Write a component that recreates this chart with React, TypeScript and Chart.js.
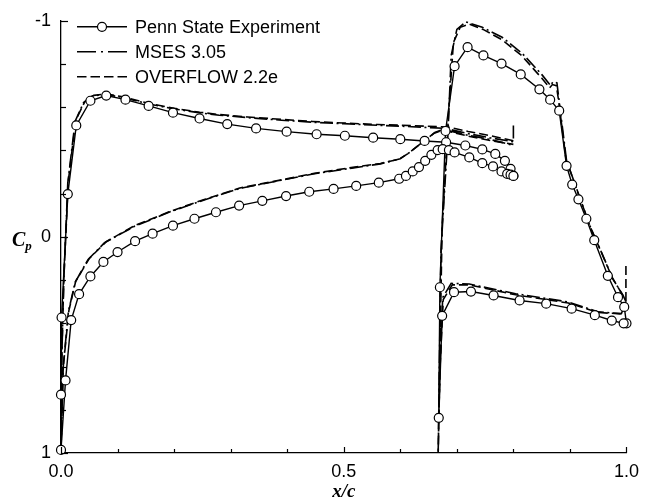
import React, { useEffect, useRef } from 'react';
import { Chart, registerables } from 'chart.js';

Chart.register(...registerables);

// ---- Penn State Experiment: main element (TE -> upper -> LE -> lower -> TE)
const expMainX = [0.800, 0.795, 0.785, 0.768, 0.745, 0.715, 0.681, 0.643, 0.600, 0.552, 0.502, 0.452, 0.399, 0.345, 0.294, 0.245, 0.198, 0.155, 0.114, 0.080, 0.052, 0.027, 0.012, 0.001, 0.000, 0.000,
  0.008, 0.018, 0.032, 0.052, 0.075, 0.100, 0.131, 0.162, 0.198, 0.236, 0.274, 0.315, 0.356, 0.398, 0.439, 0.482, 0.522, 0.562, 0.598, 0.610, 0.622, 0.633, 0.644, 0.655, 0.666, 0.675, 0.686, 0.696, 0.722, 0.745, 0.764, 0.779, 0.789, 0.795, 0.800];
const expMainY = [-0.282, -0.315, -0.352, -0.384, -0.405, -0.423, -0.438, -0.444, -0.452, -0.459, -0.468, -0.475, -0.487, -0.502, -0.522, -0.548, -0.575, -0.606, -0.635, -0.654, -0.630, -0.516, -0.198, 0.373, 0.730, 0.986,
  0.664, 0.385, 0.265, 0.183, 0.116, 0.070, 0.020, -0.015, -0.052, -0.084, -0.114, -0.145, -0.167, -0.189, -0.209, -0.222, -0.236, -0.251, -0.269, -0.282, -0.303, -0.323, -0.352, -0.380, -0.402, -0.406, -0.402, -0.391, -0.368, -0.341, -0.326, -0.303, -0.292, -0.288, -0.282];

// ---- Penn State Experiment: flap
const expFlapX = [1.000, 0.996, 0.985, 0.967, 0.943, 0.929, 0.915, 0.904, 0.894, 0.881, 0.865, 0.846, 0.813, 0.779, 0.747, 0.719, 0.696, 0.680, 0.670, 0.668,
  0.674, 0.695, 0.725, 0.765, 0.811, 0.858, 0.903, 0.944, 0.974, 0.995];
const expFlapY = [0.400, 0.324, 0.279, 0.180, 0.015, -0.084, -0.174, -0.242, -0.329, -0.584, -0.635, -0.683, -0.752, -0.802, -0.840, -0.878, -0.790, -0.490, 0.233, 0.837,
  0.365, 0.256, 0.253, 0.271, 0.294, 0.309, 0.332, 0.362, 0.387, 0.400];

// ---- MSES 3.05: main element
const msesMainX = [0.800, 0.800, 0.760, 0.720, 0.680, 0.620, 0.565, 0.500, 0.448, 0.390, 0.330, 0.280, 0.246, 0.200, 0.155, 0.110, 0.077, 0.055, 0.040, 0.025, 0.012, 0.005, 0.001, 0.000,
  0.004, 0.013, 0.025, 0.048, 0.077, 0.130, 0.194, 0.252, 0.316, 0.389, 0.448, 0.506, 0.565, 0.600, 0.617, 0.640, 0.661, 0.675, 0.720, 0.760, 0.798];
const msesMainY = [-0.515, -0.440, -0.458, -0.478, -0.502, -0.510, -0.516, -0.524, -0.530, -0.540, -0.552, -0.563, -0.574, -0.592, -0.615, -0.645, -0.660, -0.652, -0.622, -0.535, -0.250, 0.200, 0.600, 0.980,
  0.600, 0.347, 0.210, 0.104, 0.027, -0.049, -0.117, -0.170, -0.224, -0.262, -0.292, -0.315, -0.338, -0.362, -0.392, -0.440, -0.483, -0.497, -0.470, -0.450, -0.425];

// ---- MSES 3.05: flap
const msesFlapX = [0.999, 0.994, 0.976, 0.956, 0.938, 0.915, 0.894, 0.881, 0.877, 0.870, 0.866, 0.850, 0.816, 0.780, 0.745, 0.716, 0.700, 0.690, 0.684, 0.672, 0.667,
  0.670, 0.675, 0.690, 0.722, 0.804, 0.897, 0.950, 0.991, 0.999];
const msesFlapY = [0.300, 0.271, 0.195, 0.073, -0.033, -0.200, -0.353, -0.627, -0.713, -0.718, -0.700, -0.752, -0.848, -0.924, -0.970, -0.995, -0.960, -0.840, -0.460, 0.058, 1.000,
  0.600, 0.280, 0.215, 0.218, 0.263, 0.301, 0.347, 0.355, 0.300];

// ---- OVERFLOW 2.2e: main element
const ovfMainX = [0.800, 0.760, 0.720, 0.685, 0.620, 0.560, 0.500, 0.445, 0.390, 0.330, 0.280, 0.245, 0.200, 0.155, 0.110, 0.080, 0.058, 0.042, 0.026, 0.013, 0.005, 0.001, 0.000,
  0.004, 0.014, 0.026, 0.050, 0.080, 0.130, 0.195, 0.252, 0.316, 0.390, 0.448, 0.506, 0.565, 0.598, 0.615, 0.638, 0.660, 0.676, 0.720, 0.760, 0.800];
const ovfMainY = [-0.445, -0.468, -0.488, -0.508, -0.515, -0.520, -0.527, -0.534, -0.544, -0.555, -0.566, -0.577, -0.595, -0.618, -0.648, -0.662, -0.655, -0.625, -0.540, -0.260, 0.190, 0.600, 0.985,
  0.600, 0.340, 0.205, 0.100, 0.022, -0.052, -0.120, -0.172, -0.226, -0.264, -0.294, -0.318, -0.340, -0.360, -0.388, -0.436, -0.480, -0.495, -0.466, -0.446, -0.428];

// ---- OVERFLOW 2.2e: flap
const ovfFlapX = [0.999, 0.999, 0.993, 0.975, 0.955, 0.937, 0.914, 0.893, 0.880, 0.876, 0.869, 0.864, 0.850, 0.815, 0.780, 0.748, 0.722, 0.706, 0.694, 0.686, 0.674, 0.667,
  0.670, 0.676, 0.692, 0.722, 0.804, 0.897, 0.950, 0.990, 0.999];
const ovfFlapY = [0.135, 0.290, 0.268, 0.190, 0.068, -0.040, -0.205, -0.360, -0.630, -0.700, -0.705, -0.690, -0.735, -0.838, -0.912, -0.958, -0.985, -0.970, -0.900, -0.600, -0.050, 1.000,
  0.620, 0.290, 0.222, 0.222, 0.268, 0.306, 0.350, 0.356, 0.340];

const legendLabels = ['Penn State Experiment', 'MSES 3.05', 'OVERFLOW 2.2e'];
const xAxisTitle = 'x/c';
const yAxisTitleMain = 'C';
const yAxisTitleSub = 'p';

const SANS = '"Liberation Sans", Arial, Helvetica, sans-serif';
const SERIF = '"Liberation Serif", "Times New Roman", serif';
const MSES_DASH = [13, 3.5, 2, 3.5];
const OVF_DASH = [9, 4];

function pts(xs: number[], ys: number[]) {
  return xs.map((x, i) => ({ x, y: ys[i] }));
}

const overlayPlugin = {
  id: 'overlay',
  afterDraw(chart: any) {
    const ctx = chart.ctx as CanvasRenderingContext2D;
    const xs = chart.scales.x;
    const ys = chart.scales.y;
    const area = chart.chartArea;
    ctx.save();
    // inward ticks
    ctx.strokeStyle = '#000';
    ctx.lineWidth = 1.2;
    ctx.setLineDash([]);
    xs.ticks.forEach((t: any) => {
      const v = t.value;
      const major = Math.abs(v * 2 - Math.round(v * 2)) < 1e-6;
      const px = Math.round(xs.getPixelForValue(v)) + 0.5;
      ctx.beginPath();
      ctx.moveTo(px, area.bottom);
      ctx.lineTo(px, area.bottom - (major ? 6 : 4));
      ctx.stroke();
    });
    ys.ticks.forEach((t: any) => {
      const v = t.value;
      const major = Math.abs(v - Math.round(v)) < 1e-6;
      const py = Math.round(ys.getPixelForValue(v)) + 0.5;
      ctx.beginPath();
      ctx.moveTo(area.left, py);
      ctx.lineTo(area.left + (major ? 7 : 5), py);
      ctx.stroke();
    });

    // legend
    const lx0 = area.left + 16;
    const lx1 = area.left + 66;
    const rows = [area.top + 6, area.top + 31, area.top + 56];
    ctx.lineWidth = 1.5;
    // experiment
    ctx.beginPath();
    ctx.moveTo(lx0, rows[0]);
    ctx.lineTo(lx1, rows[0]);
    ctx.stroke();
    ctx.beginPath();
    ctx.arc((lx0 + lx1) / 2, rows[0], 4.5, 0, Math.PI * 2);
    ctx.fillStyle = '#fff';
    ctx.fill();
    ctx.lineWidth = 1.2;
    ctx.stroke();
    // MSES
    ctx.lineWidth = 1.6;
    ctx.setLineDash([19, 5, 2, 5]);
    ctx.beginPath();
    ctx.moveTo(lx0, rows[1]);
    ctx.lineTo(lx1, rows[1]);
    ctx.stroke();
    // OVERFLOW
    ctx.setLineDash([9.5, 4]);
    ctx.beginPath();
    ctx.moveTo(lx0, rows[2]);
    ctx.lineTo(lx1, rows[2]);
    ctx.stroke();
    ctx.setLineDash([]);
    ctx.fillStyle = '#000';
    ctx.font = `18px ${SANS}`;
    ctx.textAlign = 'left';
    ctx.textBaseline = 'middle';
    legendLabels.forEach((lab, i) => ctx.fillText(lab, lx1 + 8, rows[i] + 1));

    // axis titles
    ctx.textBaseline = 'alphabetic';
    ctx.textAlign = 'center';
    ctx.font = `italic bold 19px ${SERIF}`;
    ctx.fillText(xAxisTitle, (area.left + area.right) / 2, chart.height - 3);
    const y0 = ys.getPixelForValue(0);
    ctx.textAlign = 'left';
    ctx.font = `italic bold 20px ${SERIF}`;
    ctx.fillText(yAxisTitleMain, 12, y0 + 9);
    const cw = ctx.measureText(yAxisTitleMain).width;
    ctx.font = `italic bold 13px ${SERIF}`;
    ctx.fillText(yAxisTitleSub, 12 + cw, y0 + 13);
    ctx.restore();
  },
};

export default function App() {
  const ref = useRef<HTMLCanvasElement>(null);
  useEffect(() => {
    const canvas = ref.current;
    if (!canvas) return;
    const expStyle = {
      borderColor: '#000',
      borderWidth: 1.4,
      pointRadius: 4.5,
      pointBorderWidth: 1.2,
      pointBackgroundColor: '#fff',
      pointBorderColor: '#000',
      showLine: true,
      tension: 0,
      clip: false as const,
    };
    const lineStyle = {
      borderColor: '#000',
      borderWidth: 1.6,
      pointRadius: 0,
      showLine: true,
      tension: 0,
      clip: false as const,
    };
    const chart = new Chart(canvas, {
      type: 'scatter',
      data: {
        datasets: [
          { label: legendLabels[0], data: pts(expMainX, expMainY), ...expStyle },
          { label: legendLabels[0] + ' flap', data: pts(expFlapX, expFlapY), ...expStyle },
          { label: legendLabels[1], data: pts(msesMainX, msesMainY), ...lineStyle, borderDash: MSES_DASH },
          { label: legendLabels[1] + ' flap', data: pts(msesFlapX, msesFlapY), ...lineStyle, borderDash: MSES_DASH },
          { label: legendLabels[2], data: pts(ovfMainX, ovfMainY), ...lineStyle, borderDash: OVF_DASH },
          { label: legendLabels[2] + ' flap', data: pts(ovfFlapX, ovfFlapY), ...lineStyle, borderDash: OVF_DASH },
        ] as any,
      },
      options: {
        animation: false,
        responsive: false,
        devicePixelRatio: 1,
        layout: { padding: { top: 15, right: 15, left: 0, bottom: 0 } },
        plugins: { legend: { display: false }, tooltip: { enabled: false } },
        scales: {
          x: {
            type: 'linear',
            min: 0,
            max: 1,
            grid: { display: false, drawTicks: false },
            border: { display: true, color: '#000', width: 1.3 },
            ticks: {
              stepSize: 0.1,
              autoSkip: false,
              maxRotation: 0,
              padding: 8,
              color: '#000',
              font: { family: SANS, size: 18 },
              callback: (v: any) => {
                const n = Number(v);
                const r = Math.round(n * 2) / 2;
                return Math.abs(n - r) < 1e-6 ? r.toFixed(1) : '';
              },
            },
            afterFit: (s: any) => {
              s.height = 47;
            },
          },
          y: {
            type: 'linear',
            min: -1,
            max: 1,
            reverse: true,
            grid: { display: false, drawTicks: false },
            border: { display: true, color: '#000', width: 1.3 },
            ticks: {
              stepSize: 0.2,
              autoSkip: false,
              padding: 10,
              color: '#000',
              font: { family: SANS, size: 18 },
              callback: (v: any) => {
                const n = Number(v);
                const r = Math.round(n);
                return Math.abs(n - r) < 1e-6 ? String(r === 0 ? 0 : r) : '';
              },
            },
            afterFit: (s: any) => {
              s.width = 61;
            },
          },
        },
      } as any,
      plugins: [overlayPlugin],
    });
    return () => chart.destroy();
  }, []);
  return (
    <div style={{ position: 'fixed', left: 0, top: 0, width: 647, height: 500, background: '#fff' }}>
      <canvas ref={ref} width={647} height={500} style={{ display: 'block' }} />
    </div>
  );
}
